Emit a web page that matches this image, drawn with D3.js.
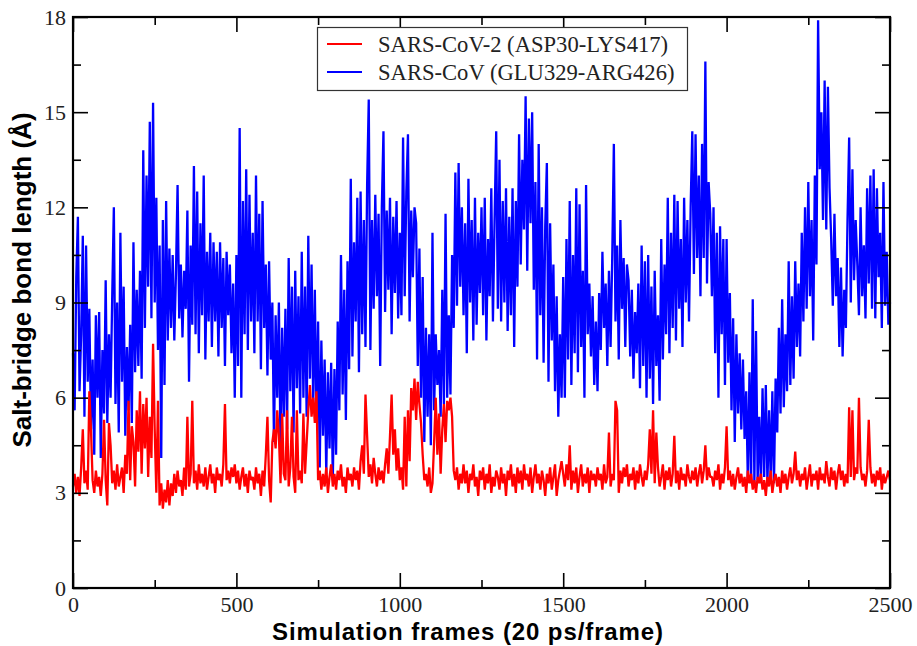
<!DOCTYPE html>
<html>
<head>
<meta charset="utf-8">
<script src="https://cdn.jsdelivr.net/npm/d3@7"></script>
<style>
  body { margin: 0; background: #fff; }
  svg { display: block; }
  .tick text { font-family: "Liberation Serif", "DejaVu Serif", serif; font-size: 22px; fill: #222; }
  .axis path { display: none; }
  .axis line { stroke: #000; stroke-width: 1.6px; }
</style>
</head>
<body>
<svg id="chart"></svg>
<script>
var frameStep = 5

var seriesNames = ['SARS-CoV-2 (ASP30-LYS417)', 'SARS-CoV (GLU329-ARG426)']
var seriesColors = ['#ff0000', '#0000ff']

var xTicks = [0, 500, 1000, 1500, 2000, 2500]
var xMinor = [250, 750, 1250, 1750, 2250]
var yTicks = [0, 3, 6, 9, 12, 15, 18]
var yMinor = [1.5, 4.5, 7.5, 10.5, 13.5, 16.5]

var sarsCov2 = [
  3.2, 3.6, 3.0, 3.5, 2.9, 3.8, 5.0, 3.3, 3.7, 3.1,
  6.2, 5.0, 3.4, 3.0, 3.7, 3.2, 3.5, 2.9, 3.6, 5.3,
  3.4, 2.6, 5.2, 4.5, 3.3, 3.7, 3.1, 3.9, 3.2, 3.5,
  3.8, 3.0, 4.2, 3.6, 5.9, 3.4, 5.1, 4.6, 3.2, 5.6,
  4.3, 6.2, 3.6, 5.8, 4.4, 6.0, 3.5, 5.4, 4.1, 7.7,
  5.0, 3.0, 5.9, 2.6, 3.3, 2.5, 3.1, 2.7, 3.4, 2.6,
  3.3, 2.9, 3.6, 3.0, 3.7, 3.2, 3.4, 2.9, 3.8, 3.1,
  5.4, 3.2, 3.6, 5.9, 3.3, 3.7, 3.1, 3.9, 3.3, 3.6,
  3.2, 3.8, 3.1, 3.5, 3.9, 3.3, 3.6, 3.0, 3.8, 3.4,
  3.6, 3.2, 3.9, 5.8, 3.4, 3.7, 3.3, 3.8, 3.5, 3.9,
  3.3, 3.7, 3.1, 3.5, 3.8, 3.2, 3.6, 3.0, 3.7, 3.4,
  3.5, 3.1, 3.8, 3.3, 3.6, 2.9, 3.7, 3.2, 4.2, 5.4,
  3.4, 2.7, 4.6, 5.0, 4.4, 5.6, 4.8, 3.3, 5.5, 3.6,
  3.4, 5.6, 3.2, 3.8, 5.4, 3.5, 3.0, 5.6, 3.4, 3.7,
  3.3, 5.5, 3.6, 4.6, 5.6, 6.4, 5.4, 6.0, 5.2, 6.2,
  3.4, 3.7, 3.1, 3.6, 3.2, 3.8, 3.0, 3.5, 3.9, 3.2,
  3.6, 3.1, 3.7, 3.4, 3.9, 3.2, 3.5, 3.0, 3.8, 3.4,
  3.6, 3.2, 3.8, 3.4, 3.7, 3.1, 4.0, 4.5, 3.6, 6.1,
  4.8, 3.5, 3.9, 3.3, 4.1, 3.6, 3.2, 3.8, 3.4, 3.7,
  3.3, 3.9, 4.4, 3.6, 4.8, 6.1, 4.2, 5.0, 3.7, 4.4,
  3.4, 3.8, 3.1, 5.4, 3.2, 5.6, 4.0, 6.3, 5.6, 6.6,
  5.3, 6.5, 5.8, 5.2, 4.2, 3.4, 3.6, 3.2, 3.8, 3.0,
  3.3, 4.6, 6.0, 4.2, 5.5, 3.6, 5.0, 5.8, 4.6, 5.9,
  5.6, 6.0, 5.4, 3.7, 3.4, 3.8, 3.1, 3.6, 3.3, 3.9,
  3.3, 3.7, 3.0, 3.6, 3.4, 3.9, 3.2, 3.5, 2.9, 3.7,
  3.4, 3.8, 3.1, 3.6, 3.3, 3.9, 3.0, 3.5, 3.2, 3.7,
  3.5, 3.1, 3.8, 3.3, 3.6, 2.9, 3.7, 3.4, 3.9, 3.2,
  3.6, 3.0, 3.8, 3.3, 3.7, 3.1, 3.9, 3.4, 3.6, 3.2,
  3.8, 3.0, 3.5, 3.9, 3.3, 3.6, 3.1, 3.7, 3.4, 2.9,
  3.6, 3.3, 3.8, 3.1, 3.5, 3.9, 2.9, 3.4, 3.7, 4.0,
  3.6, 3.2, 3.9, 3.4, 4.5, 3.1, 3.7, 3.3, 3.8, 3.0,
  3.5, 3.9, 3.2, 3.6, 3.3, 3.8, 3.0, 3.7, 3.4, 3.6,
  3.2, 3.8, 3.4, 3.6, 3.1, 3.9, 3.3, 3.5, 4.9, 3.2,
  3.6, 3.4, 5.9, 5.6, 3.0, 3.7, 3.3, 3.8, 3.5, 3.9,
  3.2, 3.6, 3.4, 3.8, 3.1, 3.7, 3.3, 3.9, 3.5, 3.2,
  3.7, 3.4, 3.9, 5.0, 3.6, 5.6, 3.3, 4.9, 3.8, 3.2,
  3.5, 3.9, 3.1, 3.7, 3.4, 3.8, 3.2, 3.6, 4.8, 3.3,
  3.7, 3.1, 3.8, 3.4, 3.6, 3.2, 3.9, 3.5, 3.3, 3.7,
  3.4, 3.8, 3.2, 3.6, 3.9, 3.3, 3.7, 4.5, 3.4, 3.8,
  3.5, 3.5, 3.2, 3.7, 3.4, 3.9, 3.1, 3.6, 3.3, 3.8,
  5.1, 3.4, 3.7, 3.2, 3.6, 3.1, 3.5, 3.8, 3.3, 3.6,
  3.2, 3.5, 3.0, 3.7, 3.3, 3.6, 3.1, 3.4, 3.0, 3.5,
  3.3, 3.6, 3.1, 3.4, 2.9, 3.5, 3.2, 3.7, 3.0, 3.4,
  3.6, 3.2, 3.5, 3.0, 3.7, 3.3, 3.6, 3.1, 3.5, 3.8,
  3.3, 3.6, 4.3, 3.4, 3.7, 3.2, 3.6, 3.4, 3.8, 3.1,
  3.5, 3.9, 3.2, 3.6, 3.4, 3.7, 3.1, 3.8, 3.4, 3.6,
  3.3, 4.0, 3.5, 3.2, 3.8, 3.4, 3.7, 3.1, 3.6, 3.9,
  3.4, 3.7, 3.2, 3.6, 3.3, 5.7, 3.5, 5.6, 3.4, 3.8,
  3.6, 6.0, 3.8, 3.4, 3.6, 3.2, 3.7, 5.3, 3.8, 3.3,
  3.6, 3.2, 3.7, 3.4, 3.8, 3.1, 3.6, 3.3, 3.5, 3.7,
  3.4
]

var sarsCov = [
  7.4, 5.6, 9.8, 11.7, 6.2, 8.0, 11.1, 5.4, 10.8, 6.5,
  8.8, 5.0, 7.2, 4.2, 8.6, 6.0, 8.7, 4.1, 7.5, 5.5,
  9.7, 5.2, 8.0, 6.0, 9.2, 12.0, 5.8, 9.0, 4.9, 11.2,
  6.5, 9.5, 4.8, 7.6, 5.6, 8.3, 5.2, 10.9, 6.8, 9.4,
  7.0, 10.0, 6.6, 13.8, 8.2, 13.0, 9.5, 14.7, 8.5, 15.3,
  9.0, 12.3, 7.5, 10.8, 4.1, 11.6, 6.4, 12.2, 7.8, 10.7,
  8.2, 10.5, 7.8, 9.9, 12.7, 8.5, 10.2, 7.9, 10.0, 8.8,
  11.9, 6.5, 10.8, 8.3, 13.3, 8.0, 12.5, 7.4, 11.5, 8.6,
  13.0, 7.2, 10.6, 8.4, 11.2, 7.6, 10.9, 8.4, 10.6, 7.3,
  10.9, 8.2, 10.4, 7.0, 10.6, 8.6, 10.2, 7.4, 9.6, 6.0,
  10.5, 7.0, 14.5, 6.0, 12.2, 8.0, 13.2, 7.5, 12.4, 8.4,
  11.2, 7.4, 13.0, 8.4, 11.8, 6.9, 12.2, 8.2, 10.2, 6.7,
  10.3, 7.2, 9.0, 4.6, 8.6, 6.0, 9.0, 4.4, 8.2, 5.4,
  8.8, 5.0, 10.4, 6.2, 9.5, 4.9, 10.0, 6.3, 9.2, 5.5,
  10.6, 6.0, 9.5, 5.4, 11.1, 6.6, 10.2, 5.8, 9.4, 5.2,
  8.4, 3.8, 7.8, 4.8, 7.2, 3.6, 6.8, 4.4, 7.1, 3.4,
  6.9, 4.2, 8.4, 5.6, 10.5, 6.1, 9.4, 5.3, 10.3, 6.9,
  12.9, 7.3, 10.9, 8.4, 12.3, 6.8, 12.5, 8.0, 11.6, 7.6,
  12.7, 15.4, 7.5, 11.6, 8.8, 12.4, 9.2, 11.8, 7.0, 12.0,
  14.4, 8.7, 11.9, 9.4, 12.3, 8.0, 11.7, 9.3, 12.2, 8.5,
  11.2, 8.6, 14.2, 9.2, 12.5, 14.3, 8.4, 11.9, 9.8, 12.0,
  11.5, 7.0, 10.7, 6.0, 9.8, 4.6, 8.2, 5.4, 8.0, 4.5,
  11.2, 5.6, 8.0, 6.4, 7.5, 5.4, 9.4, 5.8, 11.8, 6.0,
  8.6, 6.1, 10.5, 8.2, 13.1, 8.9, 13.4, 9.5, 12.0, 8.6,
  11.5, 7.4, 12.9, 9.0, 11.6, 7.8, 12.3, 8.3, 11.2, 9.3,
  12.0, 8.6, 12.3, 7.8, 11.0, 9.2, 12.6, 8.4, 11.6, 14.4,
  8.8, 13.5, 8.4, 12.2, 9.0, 12.6, 8.1, 11.7, 8.6, 12.6,
  7.6, 12.2, 9.5, 14.3, 10.2, 13.5, 11.3, 15.5, 10.0, 14.8,
  11.5, 15.0, 9.4, 12.8, 7.2, 14.0, 8.6, 12.0, 7.1, 11.4,
  13.4, 6.5, 11.5, 7.8, 10.2, 6.2, 9.2, 5.4, 8.0, 6.0,
  9.8, 6.0, 11.0, 7.2, 12.2, 6.4, 10.5, 7.4, 12.6, 6.8,
  12.1, 7.6, 10.0, 6.0, 12.7, 8.0, 9.6, 7.3, 9.2, 6.4,
  8.4, 6.2, 9.3, 7.5, 10.6, 8.2, 9.6, 7.0, 10.0, 7.6,
  10.4, 14.0, 8.4, 10.8, 7.2, 11.6, 8.8, 10.4, 7.6, 10.2,
  9.7, 7.3, 9.4, 6.6, 8.7, 7.4, 9.6, 6.3, 10.8, 7.0,
  10.3, 6.0, 10.5, 6.6, 9.5, 5.8, 10.0, 7.0, 8.6, 5.9,
  11.0, 7.2, 10.2, 8.0, 12.3, 7.4, 11.2, 8.2, 12.4, 7.8,
  12.2, 8.8, 11.0, 7.6, 12.3, 9.0, 11.6, 8.4, 12.0, 14.4,
  9.9, 14.3, 10.4, 13.0, 9.2, 14.0, 10.4, 16.6, 9.6, 12.8,
  11.8, 9.2, 12.0, 7.4, 11.2, 6.0, 11.4, 8.0, 11.0, 6.4,
  11.0, 7.1, 9.3, 5.6, 8.5, 4.6, 8.0, 5.5, 7.4, 5.0,
  7.2, 4.7, 6.2, 3.4, 6.8, 3.3, 9.1, 3.3, 8.1, 3.4,
  5.4, 3.3, 6.3, 3.5, 6.4, 3.3, 5.6, 3.4, 6.2, 3.3,
  6.6, 4.9, 8.2, 5.5, 9.1, 5.7, 8.0, 6.2, 10.3, 6.4,
  9.2, 6.6, 10.3, 7.6, 9.6, 7.3, 11.2, 8.4, 12.0, 8.8,
  12.8, 9.2, 11.6, 7.8, 13.0, 10.2, 17.9, 13.2, 15.0, 11.6,
  16.0, 11.3, 15.8, 12.6, 11.0, 8.9, 11.8, 9.2, 10.4, 7.6,
  10.1, 7.3, 9.4, 8.2, 11.6, 14.2, 9.0, 13.2, 9.7, 11.6,
  10.2, 8.6, 12.0, 9.2, 10.8, 8.5, 12.6, 9.6, 13.0, 8.8,
  13.2, 8.5, 12.6, 9.8, 11.2, 8.2, 12.8, 8.9, 10.6, 8.3,
  9.0
]

var width = 917, height = 646
var margin = {top: 17, right: 27, bottom: 58, left: 73}

var svg = d3.select('#chart')
    .attr('width', width)
    .attr('height', height)

var x = d3.scaleLinear().domain([0, 2500]).range([margin.left, width - margin.right])
var y = d3.scaleLinear().domain([0, 18]).range([height - margin.bottom, margin.top])

var frames = sarsCov.map((d, i) => i * frameStep)

var line = d3.line()
    .x((d, i) => x(frames[i]))
    .y((d) => y(d))

// blue first so the red trace sits on top
var series = [sarsCov, sarsCov2]
var colors = [seriesColors[1], seriesColors[0]]

svg.selectAll('.trace')
    .data(series)
    .enter().append('path')
    .attr('class', 'trace')
    .attr('d', (d) => line(d))
    .attr('fill', 'none')
    .attr('stroke', (d, i) => colors[i])
    .attr('stroke-width', 2.3)
    .attr('stroke-linejoin', 'bevel')

// axes, ticks point inward on all four sides
var bottom = height - margin.bottom, right = width - margin.right

svg.append('g').attr('class', 'axis')
    .attr('transform', 'translate(0,' + bottom + ')')
    .call(d3.axisBottom(x).tickValues(xTicks).tickSizeInner(-15).tickSizeOuter(0).tickPadding(8).tickFormat(d3.format('d')))
svg.append('g').attr('class', 'axis')
    .attr('transform', 'translate(0,' + bottom + ')')
    .call(d3.axisBottom(x).tickValues(xMinor).tickSizeInner(-8).tickSizeOuter(0).tickFormat(''))
svg.append('g').attr('class', 'axis')
    .attr('transform', 'translate(0,' + margin.top + ')')
    .call(d3.axisTop(x).tickValues(xTicks).tickSizeInner(-15).tickSizeOuter(0).tickFormat(''))
svg.append('g').attr('class', 'axis')
    .attr('transform', 'translate(0,' + margin.top + ')')
    .call(d3.axisTop(x).tickValues(xMinor).tickSizeInner(-8).tickSizeOuter(0).tickFormat(''))

svg.append('g').attr('class', 'axis')
    .attr('transform', 'translate(' + margin.left + ',0)')
    .call(d3.axisLeft(y).tickValues(yTicks).tickSizeInner(-15).tickSizeOuter(0).tickPadding(7).tickFormat(d3.format('d')))
svg.append('g').attr('class', 'axis')
    .attr('transform', 'translate(' + margin.left + ',0)')
    .call(d3.axisLeft(y).tickValues(yMinor).tickSizeInner(-8).tickSizeOuter(0).tickFormat(''))
svg.append('g').attr('class', 'axis')
    .attr('transform', 'translate(' + right + ',0)')
    .call(d3.axisRight(y).tickValues(yTicks).tickSizeInner(-15).tickSizeOuter(0).tickFormat(''))
svg.append('g').attr('class', 'axis')
    .attr('transform', 'translate(' + right + ',0)')
    .call(d3.axisRight(y).tickValues(yMinor).tickSizeInner(-8).tickSizeOuter(0).tickFormat(''))

svg.append('rect')
    .attr('x', margin.left)
    .attr('y', margin.top)
    .attr('width', right - margin.left)
    .attr('height', bottom - margin.top)
    .attr('fill', 'none')
    .attr('stroke', '#000')
    .attr('stroke-width', 2.2)

// axis titles
svg.append('text')
    .attr('x', 468)
    .attr('y', 640)
    .attr('text-anchor', 'middle')
    .style('font-family', '"Liberation Sans", Arial, sans-serif')
    .style('font-weight', 'bold')
    .style('font-size', '24px')
    .style('letter-spacing', '0.9px')
    .text('Simulation frames (20 ps/frame)')

svg.append('text')
    .attr('transform', 'translate(31,280) rotate(-90)')
    .attr('text-anchor', 'middle')
    .style('font-family', '"Liberation Sans", Arial, sans-serif')
    .style('font-weight', 'bold')
    .style('font-size', '26px')
    .text('Salt-bridge bond length (\u00c5)')

// legend
var legend = svg.append('g').attr('class', 'legend')

legend.append('rect')
    .attr('x', 317.5)
    .attr('y', 27.5)
    .attr('width', 370)
    .attr('height', 63)
    .attr('fill', '#fff')
    .attr('stroke', '#333')
    .attr('stroke-width', 1.2)

var legendItems = legend.selectAll('.item')
    .data(seriesNames)
    .enter().append('g')
    .attr('class', 'item')
    .attr('transform', (d, i) => 'translate(0,' + (44 + i * 28) + ')')

legendItems.append('line')
    .attr('x1', 327)
    .attr('x2', 362)
    .attr('stroke', (d, i) => seriesColors[i])
    .attr('stroke-width', 2)

legendItems.append('text')
    .attr('x', 378)
    .attr('y', 8)
    .style('font-family', '"Liberation Serif", "DejaVu Serif", serif')
    .style('font-size', '22.6px')
    .style('fill', '#222')
    .text((d) => d)
</script>
</body>
</html>
